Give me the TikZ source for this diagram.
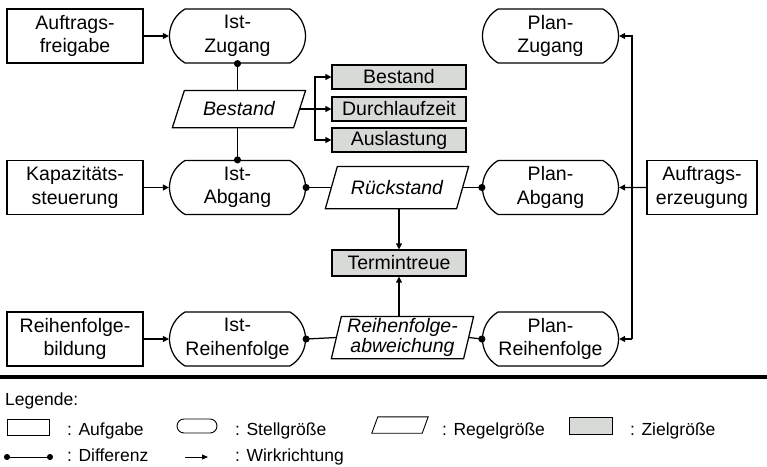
\documentclass[tikz,border=0pt]{standalone}
\usepackage{fontspec}
\setmainfont{Liberation Sans}
\usetikzlibrary{arrows.meta,shapes.misc,calc}

\definecolor{zielgrau}{RGB}{216,218,215}

\tikzset{
  x=1pt, y=-1pt,
  base/.style={draw, line width=1.25pt, inner sep=0pt, align=center,
    font=\fontsize{19.5}{23.5}\selectfont},
  aufgabe/.style={base, rectangle, minimum width=136pt, minimum height=54pt},
  stell/.style={base, rounded rectangle, rounded rectangle arc length=120,
    minimum width=136pt, minimum height=54pt},
  regel/.style={base, draw=none, rectangle,
    font=\fontsize{19.5}{17.5}\itshape\selectfont},
  ziel/.style={base, fill=zielgrau, minimum width=134pt, minimum height=24pt},
  conn/.style={line width=1.25pt},
  arr/.style={conn, -{Triangle[length=6pt,width=6pt]}},
  diffs/.style={conn, {Circle[length=7pt]}-, shorten <=-3.5pt},
  diffe/.style={conn, -{Circle[length=7pt]}, shorten >=-3.5pt},
  legtext/.style={anchor=base west, inner sep=0pt,
    font=\fontsize{17.5}{20}\selectfont},
  legline/.style={line width=0.9pt},
}

% outline of a Regelgroesse node: parallelogram leaning to the right
\newcommand\regelrand[3][1.25pt]{%
  \draw[line width=#1] (#2.south west) -- ([xshift=#3]#2.north west)
    -- (#2.north east) -- ([xshift=-#3]#2.south east) -- cycle;}

\begin{document}
\begin{tikzpicture}
\useasboundingbox (0,0) rectangle (767,466);

% --- row 1: Zugang
\node[aufgabe] (af) at (75,36)    {Auftrags-\\freigabe};
\node[stell]   (iz) at (237.5,36) {Ist-\\Zugang};
\node[stell]   (pz) at (550.5,36) {Plan-\\Zugang};

% --- row 2: Abgang
\node[aufgabe] (ks) at (75,187.5)    {Kapazitäts-\\steuerung};
\node[stell]   (ia) at (237.5,187.5) {Ist-\\Abgang};
\node[stell]   (pa) at (550.5,187.5) {Plan-\\Abgang};
\node[aufgabe, minimum width=110pt] (ae) at (702,187.5) {Auftrags-\\erzeugung};

% --- row 3: Reihenfolge
\node[aufgabe] (rb) at (75,339)    {Reihenfolge-\\bildung};
\node[stell]   (ir) at (237.5,339) {Ist-\\Reihenfolge};
\node[stell]   (pr) at (550.5,339) {Plan-\\Reihenfolge};

% --- Regelgroessen
\node[regel, minimum width=132pt, minimum height=36pt] (bs) at (239,109)   {Bestand};
\node[regel, minimum width=142pt, minimum height=41pt] (rs) at (397,187.5) {Rückstand};
\node[regel, minimum width=141pt, minimum height=41pt] (ra) at (402.5,337.5) {Reihenfolge-\\abweichung};
\regelrand{bs}{12pt}
\regelrand{rs}{12pt}
\regelrand{ra}{10pt}

% --- Zielgroessen
\node[ziel] (z1) at (399,77)  {Bestand};
\node[ziel] (z2) at (399,109) {Durchlaufzeit};
\node[ziel] (z3) at (399,140) {Auslastung};
\node[ziel, minimum height=26pt] (tt) at (399,263) {Termintreue};

% --- Wirkrichtungen
\draw[arr] (af) -- (iz);
\draw[arr] (ks) -- (ia);
\draw[arr] (rb) -- (ir);
\draw[arr] (ae) -- (pa);

\coordinate (br) at (315,109);
\draw[conn] ($(bs.east)+(-6,0)$) -- (br);
\draw[arr] (br) |- (z1.west);
\draw[arr] (br) -- (z2.west);
\draw[arr] (br) |- (z3.west);

\draw[arr] (rs.south -| tt.north) -- (tt.north);
\draw[arr] (ra.north -| tt.south) -- (tt.south);

\coordinate (bus) at (632,187.5);
\draw[arr] (bus |- pr.east) -- (bus |- pz.east) -- (pz.east);
\draw[arr] (bus |- pr.east) -- (pr.east);

% --- Differenzen
\draw[diffs] (iz.south) -- (bs.north -| iz.south);
\draw[diffe] (bs.south -| ia.north) -- (ia.north);
\draw[diffs] (ia.east) -- ($(rs.west)+(6,0)$);
\draw[diffs] (pa.west) -- ($(rs.east)+(-6,0)$);
\draw[diffs] (ir.east) -- ($(ra.west)+(5,0)$);
\draw[diffs] (pr.west) -- ($(ra.east)+(-5,0)$);

% --- separator
\draw[line width=4pt] (0,377) -- (767,377);

% --- legend
\node[legtext] (lgt) at (5,405) {Legende:};

\node[draw, legline, minimum width=42pt, minimum height=16pt, inner sep=0pt] (lg1) at (28,427) {};
\node[legtext] (lg1t) at (67,435) {: Aufgabe};

\node[draw, legline, rounded rectangle, minimum width=40pt, minimum height=14pt, inner sep=0pt] (lg2) at (197,426) {};
\node[legtext] (lg2t) at (235,435) {: Stellgröße};

\node[inner sep=0pt, minimum width=56pt, minimum height=16pt] (lg3) at (400,425) {};
\regelrand[0.9pt]{lg3}{6pt}
\node[legtext] (lg3t) at (442,435) {: Regelgröße};

\node[draw, legline, fill=zielgrau, minimum width=43pt, minimum height=17pt, inner sep=0pt] (lg4) at (590.5,425.5) {};
\node[legtext] (lg4t) at (630,435) {: Zielgröße};

\coordinate (lg5a) at (7,457);
\coordinate (lg5b) at (50,457);
\draw[legline, {Circle[length=6pt]}-{Circle[length=6pt]}, shorten <=-3pt, shorten >=-3pt] (lg5a) -- (lg5b);
\node[legtext] (lg5t) at (67,461) {: Differenz};

\coordinate (lg6a) at (185,457);
\coordinate (lg6b) at (208,457);
\draw[legline, -{Triangle[length=6pt,width=5pt]}] (lg6a) -- (lg6b);
\node[legtext] (lg6t) at (235,461) {: Wirkrichtung};
\end{tikzpicture}
\end{document}
